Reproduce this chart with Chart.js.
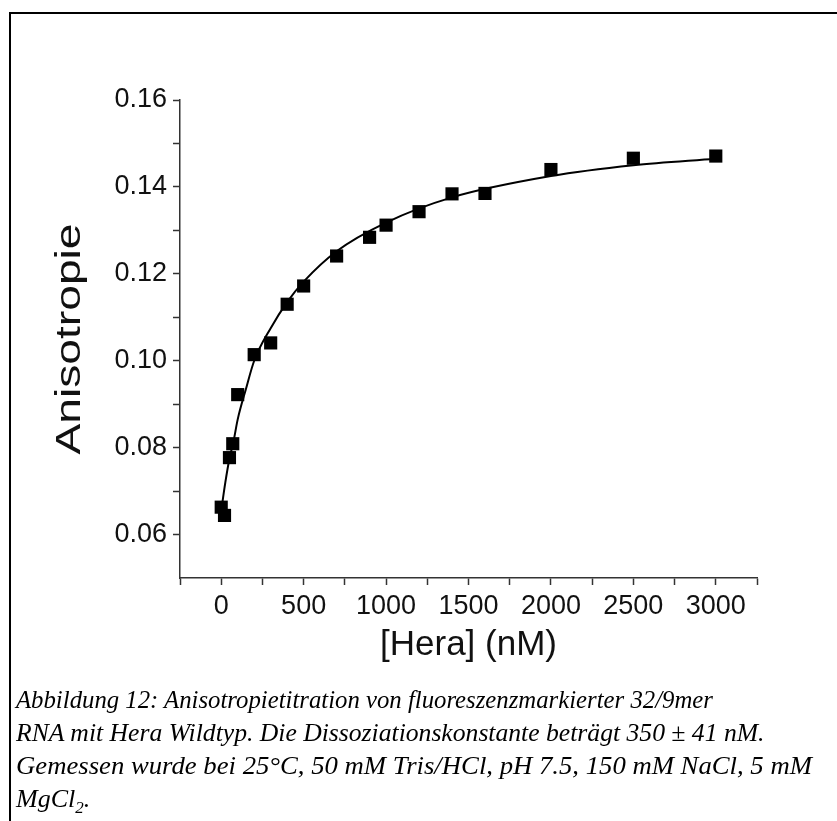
<!DOCTYPE html>
<html>
<head>
<meta charset="utf-8">
<title>Anisotropietitration</title>
<script src="https://cdn.jsdelivr.net/npm/chart.js@4.4.1/dist/chart.umd.min.js"></script>
<style>
    body { margin: 0; background: #fff; }
    #wrap { position: relative; width: 837px; height: 821px; overflow: hidden; }
    #frame { position: absolute; left: 9px; top: 12px; width: 840px; height: 820px;
             border-top: 2px solid #000; border-left: 2px solid #000; }
    #chart-box { position: absolute; left: 0; top: 0; width: 837px; height: 690px; }
    #caption { position: absolute; left: 16px; top: 683px; color: #000; white-space: nowrap;
               font-family: "Liberation Serif", "Times New Roman", serif; font-style: italic;
               font-size: 26px; line-height: 33px; }
    #caption span { display: inline-block; transform-origin: 0 50%; }
</style>
</head>
<body>
<div id="wrap">
    <div id="frame"></div>
    <div id="chart-box"><canvas id="chart" width="837" height="690"></canvas></div>
    <div id="caption"><span style="transform: scaleX(0.952)">Abbildung 12: Anisotropietitration von fluoreszenzmarkierter 32/9mer</span><br><span style="transform: scaleX(0.986)">RNA mit Hera Wildtyp. Die Dissoziationskonstante beträgt 350 ± 41 nM.</span><br><span style="transform: scaleX(1.027)">Gemessen wurde bei 25°C, 50 mM Tris/HCl, pH 7.5, 150 mM NaCl, 5 mM</span><br><span>MgCl<sub style="font-size:17px">2</sub>.</span></div>
</div>

<script>
// measured points: [Hera] in nM and anisotropy
const hera = [0, 20, 50, 70, 100, 200, 300, 400, 500, 700, 900, 1000, 1200, 1400, 1600, 2000, 2500, 3000];
const anisotropy = [0.0663, 0.0644, 0.0777, 0.0809, 0.0922, 0.1014, 0.1041, 0.1130, 0.1172, 0.1241, 0.1284, 0.1312, 0.1343, 0.1384, 0.1385, 0.1440, 0.1466, 0.1471];

// fitted binding curve
const fitX = [0, 25, 50, 75, 100, 150, 200, 300, 400, 500, 700, 1000, 1400, 2000, 2500, 3000];
const fitY = [0.0655, 0.0720, 0.0775, 0.0815, 0.0865, 0.0935, 0.1000, 0.1075, 0.1135, 0.1182, 0.1252, 0.1318, 0.1376, 0.1425, 0.1450, 0.1465];

// axis ticks (majors get a label)
const xTicks = [-250, 0, 250, 500, 750, 1000, 1250, 1500, 1750, 2000, 2250, 2500, 2750, 3000, 3250];
const yTicks = [0.06, 0.07, 0.08, 0.09, 0.10, 0.11, 0.12, 0.13, 0.14, 0.15, 0.16];

const tickFont = { family: '"Liberation Sans", Arial, sans-serif', size: 27 };
const titleFont = { family: '"Liberation Sans", Arial, sans-serif', size: 35 };

// y title is drawn by hand, it is stretched along its length in the original
const yTitle = {
    id: 'yTitle',
    afterDraw(chart) {
        const { ctx, chartArea } = chart;
        ctx.save();
        ctx.translate(70, (chartArea.top + chartArea.bottom) / 2);
        ctx.rotate(-Math.PI / 2);
        ctx.scale(1.32, 1);
        ctx.font = '35px "Liberation Sans", Arial, sans-serif';
        ctx.fillStyle = '#111';
        ctx.textAlign = 'center';
        ctx.textBaseline = 'middle';
        ctx.fillText('Anisotropie', 0, 0);
        ctx.restore();
    }
};

const ctx = document.querySelector('#chart').getContext('2d');

new Chart(ctx, {
    type: 'scatter',
    data: {
        datasets: [
            {
                label: 'Fit',
                data: fitX.map((x, i) => ({ x: x, y: fitY[i] })),
                showLine: true,
                borderColor: '#000',
                borderWidth: 2,
                pointRadius: 0,
                cubicInterpolationMode: 'monotone',
                order: 2
            },
            {
                label: 'Anisotropie',
                data: hera.map((x, i) => ({ x: x, y: anisotropy[i] })),
                pointStyle: 'rect',
                pointRadius: 9.3,
                backgroundColor: '#000',
                borderColor: '#000',
                borderWidth: 0,
                order: 1
            }
        ]
    },
    options: {
        responsive: false,
        animation: false,
        layout: { padding: { top: 100, right: 80, left: 0, bottom: 0 } },
        plugins: {
            legend: { display: false },
            tooltip: { enabled: false }
        },
        scales: {
            x: {
                type: 'linear',
                min: -250,
                max: 3250,
                afterBuildTicks: (scale) => { scale.ticks = xTicks.map(v => ({ value: v })); },
                afterFit: (scale) => { scale.height = 112; },
                grid: { drawOnChartArea: false, tickLength: 7, tickColor: '#333', tickWidth: 1.5 },
                border: { color: '#333', width: 1.5 },
                ticks: {
                    autoSkip: false,
                    maxRotation: 0,
                    padding: 5,
                    color: '#111',
                    font: tickFont,
                    callback: (v) => (v % 500 === 0 ? String(v) : '')
                },
                title: { display: true, text: '[Hera] (nM)', color: '#111', font: titleFont, padding: { bottom: 24 } }
            },
            y: {
                min: 0.05,
                max: 0.16,
                afterBuildTicks: (scale) => { scale.ticks = yTicks.map(v => ({ value: v })); },
                afterFit: (scale) => { scale.width = 180; },
                grid: { drawOnChartArea: false, tickLength: 7, tickColor: '#333', tickWidth: 1.5 },
                border: { color: '#333', width: 1.5 },
                ticks: {
                    autoSkip: false,
                    padding: 6,
                    color: '#111',
                    font: tickFont,
                    callback: (v) => (Math.round(v * 100) % 2 === 0 ? v.toFixed(2) : '')
                },
                title: { display: false }
            }
        }
    },
    plugins: [yTitle]
});
</script>
</body>
</html>
